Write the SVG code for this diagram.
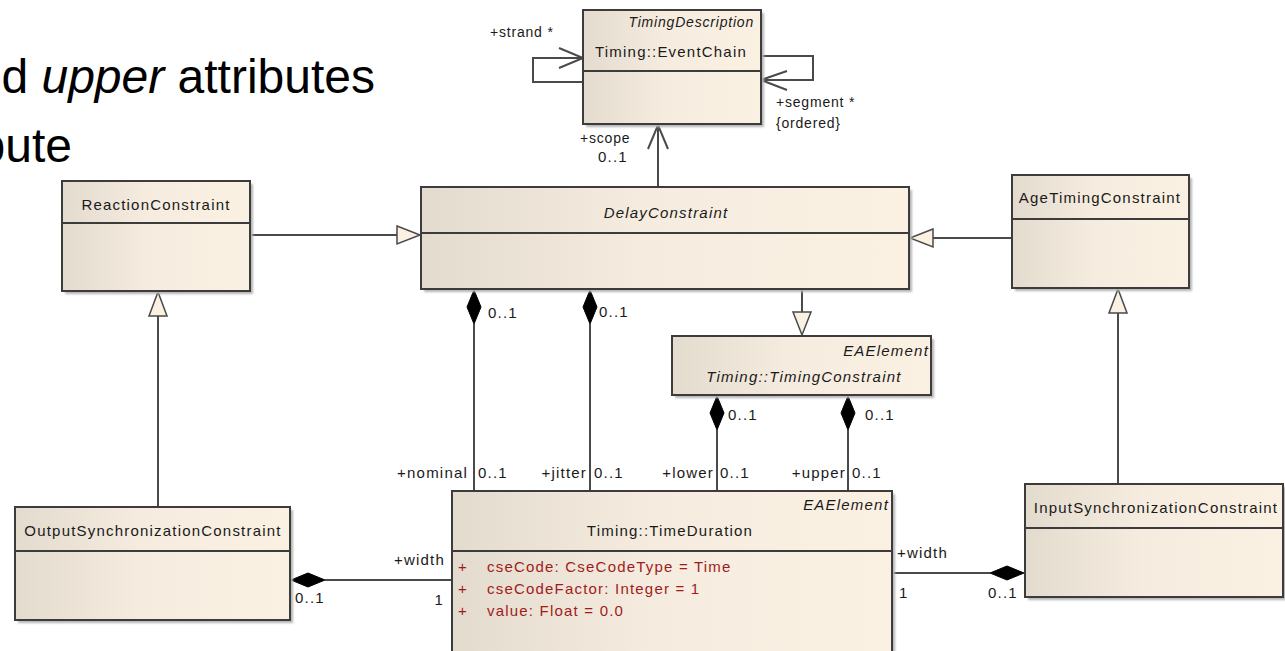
<svg xmlns="http://www.w3.org/2000/svg" width="1285" height="651" viewBox="0 0 1285 651">
  <defs>
    <linearGradient id="boxFill" x1="0" y1="0" x2="1" y2="0">
      <stop offset="0" stop-color="#e4dbcf"/>
      <stop offset="0.45" stop-color="#f5ecdf"/>
      <stop offset="1" stop-color="#fbf1e3"/>
    </linearGradient>
    <filter id="shadow" x="-5%" y="-5%" width="115%" height="115%">
      <feGaussianBlur stdDeviation="1.2"/>
    </filter>
  </defs>
  <style>
    .box { fill: url(#boxFill); stroke: #3c3c3c; stroke-width: 2; }
    .shd { fill: #b4b4b4; filter: url(#shadow); }
    .div { stroke: #3c3c3c; stroke-width: 2; }
    .ln { stroke: #4a4a4a; stroke-width: 2; fill: none; }
    .tri { fill: #fbf1e3; stroke: #4a4a4a; stroke-width: 1.5; }
    .dia { fill: #000; stroke: #000; stroke-width: 1; }
    .t { font-family: "Liberation Sans", Arial, sans-serif; font-size: 15px; fill: #1a1a1a; letter-spacing: 1.2px; }
    .it { font-style: italic; }
    .c { text-anchor: middle; }
    .e { text-anchor: end; }
    .attr { font-family: "Liberation Sans", Arial, sans-serif; font-size: 15px; fill: #a01c1c; letter-spacing: 1.2px; }
    .slide { font-family: "Liberation Sans", Arial, sans-serif; font-size: 48px; fill: #000; }
  </style>

  <rect width="1285" height="651" fill="#ffffff"/>

  <!-- slide bullet text behind the model -->
  <g id="slide-text">
    <text class="slide" x="375" y="93" text-anchor="end">nd <tspan font-style="italic">upper</tspan> attributes</text>
    <text class="slide" x="72" y="162" text-anchor="end">bute</text>
  </g>

  <!-- connectors -->
  <g id="connectors">
    <!-- Delay -> EventChain (scope) -->
    <line class="ln" x1="658" y1="187" x2="658" y2="125"/>
    <polyline class="ln" points="648,149 658,125 668,149"/>
    <!-- strand self loop -->
    <polyline class="ln" points="583,82 533,82 533,58 583,58"/>
    <polyline class="ln" points="559,48 583,58 559,68"/>
    <!-- segment self loop -->
    <polyline class="ln" points="761,56 813,56 813,80 761,80"/>
    <polyline class="ln" points="787,71 761,80 787,90"/>

    <!-- Reaction -> Delay generalization -->
    <line class="ln" x1="250" y1="235" x2="397" y2="235"/>
    <polygon class="tri" points="397,226 420,235 397,244"/>
    <!-- Age -> Delay generalization -->
    <line class="ln" x1="1012" y1="238" x2="933" y2="238"/>
    <polygon class="tri" points="933,229 910,238 933,247"/>
    <!-- Delay -> TimingConstraint generalization -->
    <line class="ln" x1="802" y1="290" x2="802" y2="312"/>
    <polygon class="tri" points="793,312 811,312 802,335"/>
    <!-- OutputSync -> Reaction generalization -->
    <line class="ln" x1="158" y1="507" x2="158" y2="316"/>
    <polygon class="tri" points="149,316 167,316 158,292"/>
    <!-- InputSync -> Age generalization -->
    <line class="ln" x1="1118" y1="484" x2="1118" y2="313"/>
    <polygon class="tri" points="1109,313 1127,313 1118,289"/>

    <!-- compositions to TimeDuration -->
    <line class="ln" x1="474" y1="324" x2="474" y2="491"/>
    <polygon class="dia" points="474,290 481,307 474,324 467,307"/>
    <line class="ln" x1="590" y1="324" x2="590" y2="491"/>
    <polygon class="dia" points="590,290 597,307 590,324 583,307"/>
    <line class="ln" x1="717" y1="430" x2="717" y2="491"/>
    <polygon class="dia" points="717,396 724,413 717,430 710,413"/>
    <line class="ln" x1="848" y1="430" x2="848" y2="491"/>
    <polygon class="dia" points="848,396 855,413 848,430 841,413"/>
    <line class="ln" x1="325" y1="580" x2="452" y2="580"/>
    <polygon class="dia" points="291,580 308,573 325,580 308,587"/>
    <line class="ln" x1="892" y1="573" x2="990" y2="573"/>
    <polygon class="dia" points="990,573 1007,566 1024,573 1007,580"/>

    <!-- role and multiplicity labels -->
    <text class="t" x="490" y="37" style="font-size:14px;letter-spacing:0.8px">+strand *</text>
    <text class="t" x="776" y="107" style="font-size:14px;letter-spacing:0.8px">+segment *</text>
    <text class="t" x="776" y="128" style="font-size:14px;letter-spacing:0.8px">{ordered}</text>
    <text class="t" x="580" y="143" style="font-size:14px;letter-spacing:0.8px">+scope</text>
    <text class="t" x="598" y="162">0..1</text>
    <text class="t" x="488" y="318">0..1</text>
    <text class="t" x="599" y="317">0..1</text>
    <text class="t" x="728" y="420">0..1</text>
    <text class="t" x="865" y="420">0..1</text>
    <text class="t e" x="468" y="478">+nominal</text>
    <text class="t" x="478" y="478">0..1</text>
    <text class="t e" x="587" y="478">+jitter</text>
    <text class="t" x="594" y="478">0..1</text>
    <text class="t e" x="714" y="478">+lower</text>
    <text class="t" x="720" y="478">0..1</text>
    <text class="t e" x="846" y="478">+upper</text>
    <text class="t" x="852" y="478">0..1</text>
    <text class="t e" x="445" y="565">+width</text>
    <text class="t e" x="444" y="605">1</text>
    <text class="t" x="295" y="603">0..1</text>
    <text class="t" x="897" y="558">+width</text>
    <text class="t" x="899" y="598">1</text>
    <text class="t" x="988" y="598">0..1</text>
  </g>

  <g id="event-chain">
    <rect class="shd" x="586" y="13" width="178" height="114"/>
    <rect class="box" x="583" y="10" width="178" height="114"/>
    <line class="div" x1="583" y1="71" x2="761" y2="71"/>
    <text class="t it e" x="754" y="27" style="font-size:14px;letter-spacing:0.8px">TimingDescription</text>
    <text class="t c" x="671" y="57">Timing::EventChain</text>
  </g>

  <g id="delay-constraint">
    <rect class="shd" x="424" y="190" width="488" height="102"/>
    <rect class="box" x="421" y="187" width="488" height="102"/>
    <line class="div" x1="421" y1="233" x2="909" y2="233"/>
    <text class="t it c" x="666" y="218">DelayConstraint</text>
  </g>

  <g id="reaction-constraint">
    <rect class="shd" x="65" y="184" width="188" height="110"/>
    <rect class="box" x="62" y="181" width="188" height="110"/>
    <line class="div" x1="62" y1="223" x2="250" y2="223"/>
    <text class="t c" x="156" y="210">ReactionConstraint</text>
  </g>

  <g id="age-timing-constraint">
    <rect class="shd" x="1015" y="178" width="177" height="113"/>
    <rect class="box" x="1012" y="175" width="177" height="113"/>
    <line class="div" x1="1012" y1="219" x2="1189" y2="219"/>
    <text class="t c" x="1100" y="203">AgeTimingConstraint</text>
  </g>

  <g id="timing-constraint">
    <rect class="shd" x="675" y="339" width="259" height="59"/>
    <rect class="box" x="672" y="336" width="259" height="59"/>
    <text class="t it e" x="929" y="356">EAElement</text>
    <text class="t it c" x="804" y="382">Timing::TimingConstraint</text>
  </g>

  <g id="time-duration">
    <rect class="shd" x="455" y="494" width="440" height="170"/>
    <rect class="box" x="452" y="491" width="440" height="170"/>
    <line class="div" x1="452" y1="551" x2="892" y2="551"/>
    <text class="t it e" x="889" y="510">EAElement</text>
    <text class="t c" x="670" y="536">Timing::TimeDuration</text>
    <text class="attr" x="458" y="572">+</text>
    <text class="attr" x="487" y="572">cseCode: CseCodeType = Time</text>
    <text class="attr" x="458" y="594">+</text>
    <text class="attr" x="487" y="594">cseCodeFactor: Integer = 1</text>
    <text class="attr" x="458" y="616">+</text>
    <text class="attr" x="487" y="616">value: Float = 0.0</text>
  </g>

  <g id="output-sync">
    <rect class="shd" x="18" y="510" width="275" height="113"/>
    <rect class="box" x="15" y="507" width="275" height="113"/>
    <line class="div" x1="15" y1="551" x2="290" y2="551"/>
    <text class="t c" x="153" y="536">OutputSynchronizationConstraint</text>
  </g>

  <g id="input-sync">
    <rect class="shd" x="1028" y="487" width="258" height="113"/>
    <rect class="box" x="1025" y="484" width="258" height="113"/>
    <line class="div" x1="1025" y1="528" x2="1283" y2="528"/>
    <text class="t c" x="1156" y="513">InputSynchronizationConstraint</text>
  </g>
</svg>
